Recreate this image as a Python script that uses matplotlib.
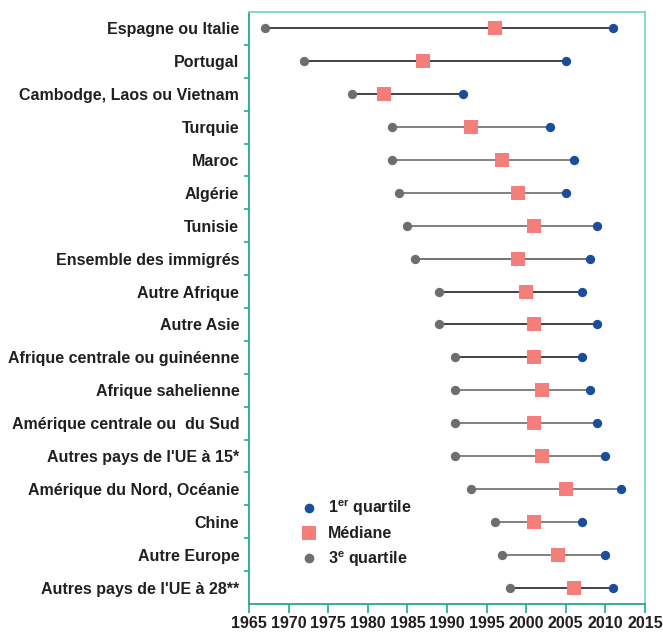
import matplotlib
matplotlib.use("Agg")
import matplotlib.pyplot as plt
from matplotlib.lines import Line2D

plt.rcParams['font.family'] = ['Liberation Sans', 'DejaVu Sans']
plt.rcParams['mathtext.fontset'] = 'custom'
plt.rcParams['mathtext.bf'] = 'Liberation Sans:bold'
plt.rcParams['mathtext.rm'] = 'Liberation Sans'

categories = [
    "Espagne ou Italie", "Portugal", "Cambodge, Laos ou Vietnam", "Turquie",
    "Maroc", "Algérie", "Tunisie", "Ensemble des immigrés", "Autre Afrique",
    "Autre Asie", "Afrique centrale ou guinéenne", "Afrique sahelienne",
    "Amérique centrale ou  du Sud", "Autres pays de l'UE à 15*",
    "Amérique du Nord, Océanie", "Chine", "Autre Europe",
    "Autres pays de l'UE à 28**",
]
q1 = [2011, 2005, 1992, 2003, 2006, 2005, 2009, 2008, 2007, 2009, 2007, 2008,
      2009, 2010, 2012, 2007, 2010, 2011]
median = [1996, 1987, 1982, 1993, 1997, 1999, 2001, 1999, 2000, 2001, 2001, 2002,
          2001, 2002, 2005, 2001, 2004, 2006]
q3 = [1967, 1972, 1978, 1983, 1983, 1984, 1985, 1986, 1989, 1989, 1991, 1991,
      1991, 1991, 1993, 1996, 1997, 1998]
xticks = list(range(1965, 2016, 5))

BLUE = "#1a4d9b"
SALMON = "#f47f7a"
GREY = "#6d6e71"
TEAL_DARK = "#24a98c"
TEAL_LIGHT = "#7fd8c8"
line_colors = ["#333333", "#333333", "#333333", "#777777", "#777777", "#777777",
               "#777777", "#666666", "#333333", "#333333", "#333333", "#777777",
               "#777777", "#777777", "#777777", "#777777", "#777777", "#333333"]

fig = plt.figure(figsize=(6.63, 6.32), dpi=100)
ax = fig.add_axes([249/663, 1-604/632, (645-249)/663, (604-12)/632])

ys = list(range(len(categories)))
for y, a, b, c in zip(ys, q3, q1, line_colors):
    ax.plot([a, b], [y, y], color=c, lw=1.3, zorder=1, solid_capstyle='butt')
ax.scatter(q3, ys, s=45, color=GREY, zorder=3, linewidths=0)
ax.scatter(q1, ys, s=45, color=BLUE, zorder=3, linewidths=0)
ax.scatter(median, ys, s=95, marker='s', color=SALMON, zorder=4, linewidths=0)

ax.set_xlim(1965, 2015)
ax.set_ylim(len(categories) - 0.5, -0.5)
ax.set_xticks(xticks)
ax.set_xticklabels([str(t) for t in xticks], fontsize=11.5, fontweight='bold',
                   color='#231f20')
ax.set_yticks([y + 0.5 for y in ys[:-1]])
ax.set_yticklabels([])
ax.set_yticks(ys, minor=True)
ax.set_yticklabels(categories, minor=True, fontsize=11.5, fontweight='bold',
                   color='#231f20')
ax.tick_params(axis='y', which='minor', length=0, pad=7)
ax.tick_params(axis='y', which='major', length=3.5, color=TEAL_DARK, width=1.2)
ax.tick_params(axis='x', length=6.5, color=TEAL_DARK, width=1.2, pad=2)

ax.spines['left'].set_color(TEAL_DARK)
ax.spines['bottom'].set_color(TEAL_DARK)
ax.spines['top'].set_color(TEAL_LIGHT)
ax.spines['right'].set_color(TEAL_LIGHT)
for s in ax.spines.values():
    s.set_linewidth(1.3)

handles = [
    Line2D([], [], marker='o', ls='none', color=BLUE, markersize=7, markeredgewidth=0),
    Line2D([], [], marker='s', ls='none', color=SALMON, markersize=10, markeredgewidth=0),
    Line2D([], [], marker='o', ls='none', color=GREY, markersize=7, markeredgewidth=0),
]
labels = [r"1$^{\mathbf{er}}$ quartile", "Médiane", r"3$^{\mathbf{e}}$ quartile"]
leg = ax.legend(handles, labels, loc='upper left', bbox_to_anchor=(0.09, 0.203),
                frameon=False, prop={'weight': 'bold', 'size': 11.5},
                handletextpad=0.6, labelspacing=0.5, handlelength=1.2)
for t in leg.get_texts():
    t.set_color('#231f20')

fig.savefig("out.png", dpi=100)
